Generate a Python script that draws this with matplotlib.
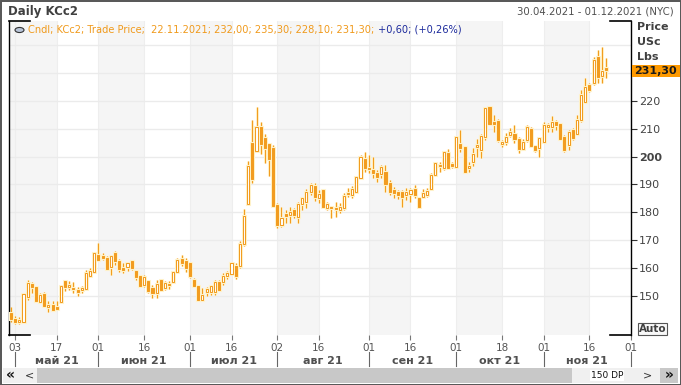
import matplotlib
matplotlib.use("Agg")
import matplotlib.pyplot as plt
import matplotlib.patheffects as pe
from matplotlib.patches import Rectangle, Circle
from matplotlib.lines import Line2D
import pandas as pd
import numpy as np

# ---------------- data ----------------
holidays = ["2021-05-31", "2021-07-05", "2021-09-06", "2021-11-25"]
calendar = [d for d in pd.bdate_range("2021-04-30", "2021-12-01") if d.strftime("%Y-%m-%d") not in holidays]

opens = [143.7, 141.6, 140.4, 140.7, 149.4, 154.2, 153.1, 147.8, 150.7, 145.9,
         146.7, 145.9, 147.7, 155.4, 153.2, 152.8, 151.9, 152.2, 152.5, 157.0,
         158.4, 164.6, 164.2, 163.6, 160.2, 165.4, 162.6, 160.0, 160.2, 162.4,
         158.8, 157.0, 153.9, 155.2, 152.8, 151.0, 155.5, 152.8, 154.2, 154.8,
         158.4, 163.3, 162.4, 161.8, 155.8, 153.6, 148.6, 151.2, 151.2, 151.2,
         154.8, 154.8, 157.0, 157.9, 160.8, 160.6, 168.5, 182.9, 204.8, 202.0,
         210.5, 206.8, 204.4, 203.2, 182.6, 175.4, 179.3, 179.0, 180.8, 178.4,
         182.9, 183.8, 187.2, 189.6, 185.0, 188.0, 181.7, 182.0, 181.6, 180.8,
         181.4, 186.5, 186.2, 187.4, 192.2, 199.2, 196.0, 195.2, 194.0, 193.8,
         194.6, 190.4, 188.0, 187.4, 187.2, 186.2, 186.6, 188.3, 185.0, 185.6,
         186.2, 188.3, 193.4, 196.5, 195.8, 201.2, 197.3, 196.4, 204.5, 203.4,
         195.8, 197.9, 203.4, 202.4, 207.0, 217.8, 212.3, 212.9, 204.6, 205.1,
         207.8, 208.2, 206.3, 202.7, 205.8, 209.9, 203.9, 203.0, 205.4, 210.8,
         210.6, 212.6, 211.8, 206.9, 204.2, 209.6, 208.2, 213.2, 219.8, 225.8,
         226.4, 236.0, 229.0, 232.0]
highs = [145.9, 142.8, 142.5, 151.0, 155.8, 154.8, 153.6, 151.0, 151.2, 148.0,
         148.0, 148.0, 153.6, 155.8, 155.4, 154.8, 153.1, 153.4, 159.4, 160.0,
         165.7, 169.0, 165.2, 164.2, 164.8, 166.0, 163.3, 161.8, 161.8, 163.0,
         159.4, 157.2, 157.6, 155.8, 154.0, 155.8, 156.0, 155.2, 155.2, 158.8,
         163.6, 164.8, 163.6, 162.0, 156.4, 154.0, 152.7, 153.1, 154.0, 155.5,
         155.5, 158.0, 158.8, 162.2, 161.8, 169.5, 181.2, 198.4, 213.2, 218.0,
         212.6, 208.0, 204.8, 204.2, 183.2, 182.0, 180.8, 182.0, 181.4, 183.8,
         185.6, 188.3, 190.4, 190.4, 188.0, 188.3, 183.8, 182.3, 183.8, 183.2,
         186.8, 188.6, 189.6, 192.8, 200.6, 201.6, 200.6, 200.0, 195.2, 197.0,
         197.0, 191.6, 189.2, 188.0, 188.0, 188.6, 188.6, 189.8, 185.6, 188.3,
         188.6, 194.0, 198.2, 197.9, 202.2, 202.7, 198.2, 207.5, 209.6, 203.9,
         198.2, 203.0, 206.3, 208.0, 218.0, 218.0, 215.0, 213.5, 206.0, 208.4,
         210.2, 211.4, 207.2, 206.3, 211.4, 210.6, 204.2, 207.2, 212.3, 212.0,
         214.7, 213.2, 212.0, 207.8, 209.6, 210.2, 215.0, 224.0, 228.2, 226.4,
         236.0, 238.4, 239.6, 235.3]
lows = [140.6, 139.8, 139.9, 140.6, 148.6, 151.0, 148.0, 147.3, 146.1, 144.0,
        144.8, 144.9, 147.6, 151.7, 152.0, 151.0, 150.0, 151.0, 152.2, 156.7,
        158.1, 162.4, 162.8, 159.2, 157.6, 161.2, 158.4, 158.2, 158.8, 159.3,
        155.8, 153.1, 153.1, 151.0, 149.2, 149.2, 151.6, 152.2, 152.4, 154.6,
        158.2, 160.6, 158.4, 156.4, 153.1, 148.0, 148.0, 150.0, 150.4, 150.4,
        151.6, 154.0, 156.1, 157.5, 156.1, 160.0, 168.0, 182.6, 190.4, 201.8,
        200.8, 197.6, 193.2, 182.0, 174.5, 174.8, 176.0, 176.0, 177.8, 176.0,
        180.8, 181.4, 186.2, 184.0, 183.2, 181.4, 180.8, 178.0, 178.4, 179.6,
        180.8, 185.6, 185.0, 186.8, 192.0, 194.6, 194.0, 192.2, 191.0, 192.2,
        187.4, 186.2, 185.0, 184.8, 182.0, 184.4, 183.8, 185.0, 181.6, 185.0,
        185.6, 188.0, 193.0, 194.6, 195.2, 195.5, 195.8, 195.8, 201.8, 194.3,
        194.6, 196.7, 200.0, 199.4, 206.0, 211.4, 209.0, 205.4, 203.3, 204.2,
        207.2, 204.8, 201.2, 202.4, 205.4, 203.6, 201.8, 200.0, 204.8, 209.0,
        209.0, 209.6, 205.8, 201.8, 202.4, 206.0, 207.8, 212.6, 219.5, 223.4,
        225.8, 226.4, 226.4, 228.1]
closes = [141.6, 140.4, 141.1, 150.6, 154.6, 153.0, 148.2, 150.2, 146.4, 146.7,
          144.9, 145.2, 153.4, 153.1, 154.0, 152.3, 151.5, 152.9, 158.2, 158.7,
          165.2, 163.0, 163.6, 159.6, 164.2, 162.4, 159.6, 159.4, 161.6, 160.0,
          156.7, 153.6, 156.6, 151.8, 151.0, 154.3, 152.2, 154.6, 153.9, 158.4,
          163.0, 161.8, 160.0, 157.0, 153.6, 148.3, 150.2, 152.4, 153.4, 154.8,
          152.2, 157.0, 158.2, 161.8, 157.0, 168.5, 178.8, 196.8, 191.9, 210.5,
          204.4, 203.2, 199.2, 182.4, 175.4, 178.1, 178.8, 180.2, 179.0, 182.9,
          185.0, 187.4, 189.8, 185.6, 186.5, 182.0, 182.9, 181.4, 181.2, 181.9,
          186.0, 187.1, 188.3, 192.5, 200.0, 195.8, 195.6, 194.0, 192.8, 196.4,
          190.0, 187.4, 186.8, 186.2, 185.6, 187.4, 188.0, 186.2, 182.0, 186.8,
          187.8, 193.4, 197.6, 196.9, 201.8, 195.8, 196.7, 207.0, 203.0, 194.6,
          196.7, 200.9, 204.2, 207.5, 217.4, 211.8, 211.8, 206.0, 205.1, 207.2,
          208.7, 206.3, 202.7, 205.4, 210.6, 203.9, 202.4, 206.6, 211.4, 211.4,
          212.3, 211.4, 206.3, 202.4, 209.0, 206.6, 213.2, 222.2, 225.2, 224.0,
          234.8, 228.8, 230.7, 231.3]

price_ticks = [150, 160, 170, 180, 190, 200, 210, 220]
month_names = ["май 21", "июн 21", "июл 21", "авг 21", "сен 21", "окт 21", "ноя 21"]

# ---------------- layout helpers ----------------
W, H = 681, 385
fig = plt.figure(figsize=(W / 100, H / 100), dpi=100)
fig.patch.set_facecolor("white")
FONT = "DejaVu Sans"
plt.rcParams["font.family"] = [FONT]

def fx(x):
    return x / W

def fy(y):
    return 1 - y / H

PL, PR, PT, PB = 9, 631, 21, 335
ax = fig.add_axes([fx(PL), fy(PB), (PR - PL) / W, (PB - PT) / H])
ax.set_facecolor("white")

n = len(opens)
idx = np.arange(n)
ax.set_xlim(-0.48, 148.82)
ax.set_ylim(135.86, 248.77)

# tick positions: first trading day on/after 1st and 16th
cal = pd.DatetimeIndex(calendar)
tick_pos, tick_lab = [], []
for m in range(5, 13):
    for d in (1, 16):
        t = pd.Timestamp(2021, m, d)
        if t > pd.Timestamp(2021, 12, 1):
            continue
        ii = int(np.searchsorted(cal, t))
        if ii < len(cal):
            tick_pos.append(ii)
            tick_lab.append(cal[ii].strftime("%d"))
month_pos = [tick_pos[i] for i in range(0, len(tick_pos), 2)]

# shaded bands
bands = [ax.get_xlim()[0]] + tick_pos[1:]
for j in range(0, len(bands) - 1, 2):
    ax.axvspan(bands[j], bands[j + 1], color="#f5f5f5", lw=0, zorder=0)
for p in tick_pos:
    ax.axvline(p, color="#eeeeee", lw=0.8, zorder=0.5)
for p in price_ticks + [230, 240]:
    ax.axhline(p, color="#ebebeb", lw=1.0, zorder=0.5)

# candles
ORANGE = "#f29c20"
glow = [pe.Stroke(linewidth=2.2, foreground="#fff3cc"), pe.Normal()]
o = np.array(opens); c = np.array(closes); hi = np.array(highs); lo = np.array(lows)
up = c >= o
ax.vlines(idx, lo, hi, color=ORANGE, lw=0.8, zorder=2, path_effects=glow)
bot = np.minimum(o, c)
ht = np.maximum(np.abs(c - o), 0.35)
ax.bar(idx[up], ht[up], bottom=bot[up], width=0.5, facecolor="#ffffff",
       edgecolor=ORANGE, lw=0.75, zorder=3, path_effects=glow)
ax.bar(idx[~up], ht[~up], bottom=bot[~up], width=0.5, facecolor=ORANGE,
       edgecolor=ORANGE, lw=0.75, zorder=3, path_effects=glow)

# spines
for s in ("top", "bottom"):
    ax.spines[s].set_visible(False)
for s in ("left", "right"):
    ax.spines[s].set_color("black")
    ax.spines[s].set_linewidth(1.0)
seg = 21 / (PR - PL)
for (x0, x1) in ((0, seg), (1 - seg, 1)):
    for yy in (0, 1):
        ax.add_line(Line2D([x0, x1], [yy, yy], transform=ax.transAxes, color="black",
                           lw=1.2, clip_on=False, zorder=5))

# x ticks
ax.set_xticks(tick_pos)
ax.set_xticklabels(tick_lab)
ax.tick_params(axis="x", direction="out", length=3.5, width=0.8, color="#777777",
               labelsize=7.5, labelcolor="#555555", pad=2)

# y ticks on right
ax.yaxis.tick_right()
ax.set_yticks(price_ticks)
ax.set_yticklabels([str(p) for p in price_ticks])
ax.tick_params(axis="y", direction="out", length=4, width=0.8, color="#333333",
               labelsize=8, labelcolor="#444444", pad=1.5)
for lab in ax.get_yticklabels():
    if lab.get_text() == "200":
        lab.set_fontweight("bold")

# month labels + separators
for j in range(len(month_pos) - 1):
    xa = ax.transData.transform((month_pos[j], 0))[0]
    xb = ax.transData.transform((month_pos[j + 1], 0))[0]
    fig.text((xa + xb) / 2 / W, fy(361), month_names[j], ha="center", va="center",
             fontsize=8, fontweight="bold", color="#505050")
for p in month_pos:
    xa = ax.transData.transform((p, 0))[0] / W
    fig.add_artist(Line2D([xa, xa], [fy(352), fy(366)], color="#666666", lw=0.8))

# header
fig.text(fx(8), fy(12), "Daily KCc2", fontsize=8.5, fontweight="bold", color="#404040",
         ha="left", va="center")
fig.text(fx(674), fy(12), "30.04.2021 - 01.12.2021 (NYC)", fontsize=7.3, color="#505050",
         ha="right", va="center")

# legend line
fig.add_artist(Circle((fx(19.5), fy(30)), 4.5 / W, transform=fig.transFigure,
                      facecolor="#b8c4d8", edgecolor="#333333", lw=0.8, zorder=6))
t1 = fig.text(fx(28), fy(30), "Cndl; KCc2; Trade Price;  22.11.2021; 232,00; 235,30; 228,10; 231,30;",
              fontsize=7.1, color="#f09a1c", ha="left", va="center", zorder=6)
fig.canvas.draw()
bb = t1.get_window_extent(fig.canvas.get_renderer())
fig.text(bb.x1 / W + 4 / W, fy(30), "+0,60; (+0,26%)", fontsize=7.1, color="#1c2a9c",
         ha="left", va="center", zorder=6)

# right labels
for yy, s in ((27, "Price"), (42, "USc"), (57, "Lbs")):
    fig.text(fx(637), fy(yy), s, fontsize=8, fontweight="bold", color="#404040",
             ha="left", va="center")
fig.add_artist(Rectangle((fx(632), fy(77)), 48 / W, 12 / H, transform=fig.transFigure,
                         facecolor="#ff9a00", edgecolor="none", zorder=6))
fig.text(fx(634), fy(71), "231,30", fontsize=8, fontweight="bold", color="#1a1a1a",
         ha="left", va="center", zorder=7)

# Auto box
fig.add_artist(Rectangle((fx(638), fy(335)), 29 / W, 12 / H, transform=fig.transFigure,
                         facecolor="#f8f8f8", edgecolor="#555555", lw=0.8, zorder=6))
fig.text(fx(652.5), fy(329), "Auto", fontsize=7.5, fontweight="bold", color="#404040",
         ha="center", va="center", zorder=7)

# scrollbar
fig.add_artist(Rectangle((fx(3), fy(383)), 675 / W, 15 / H, transform=fig.transFigure,
                         facecolor="#f0f0f0", edgecolor="none", zorder=1))
fig.add_artist(Rectangle((fx(37), fy(383)), 535 / W, 15 / H, transform=fig.transFigure,
                         facecolor="#c8c8c8", edgecolor="none", zorder=2))
fig.add_artist(Rectangle((fx(660), fy(383)), 18 / W, 15 / H, transform=fig.transFigure,
                         facecolor="#c8c8c8", edgecolor="none", zorder=2))
fig.add_artist(Rectangle((fx(590), fy(381)), 34 / W, 11 / H, transform=fig.transFigure,
                         facecolor="white", edgecolor="none", zorder=3))
fig.text(fx(607), fy(375.5), "150 DP", fontsize=6.5, color="#111111", ha="center",
         va="center", zorder=4)
fig.text(fx(10), fy(375), "«", fontsize=10, fontweight="bold", color="#111111",
         ha="center", va="center", zorder=4)
fig.text(fx(29), fy(375), "<", fontsize=8, color="#333333", ha="center", va="center", zorder=4)
fig.text(fx(648), fy(375), ">", fontsize=8, color="#333333", ha="center", va="center", zorder=4)
fig.text(fx(669), fy(375), "»", fontsize=10, fontweight="bold", color="#111111",
         ha="center", va="center", zorder=4)

# outer border
fig.add_artist(Rectangle((0.5 / W, 0.5 / H), (W - 1) / W, (H - 1) / H, transform=fig.transFigure,
                         facecolor="none", edgecolor="#555555", lw=1.4, zorder=10))

fig.savefig("out.png", dpi=100)
